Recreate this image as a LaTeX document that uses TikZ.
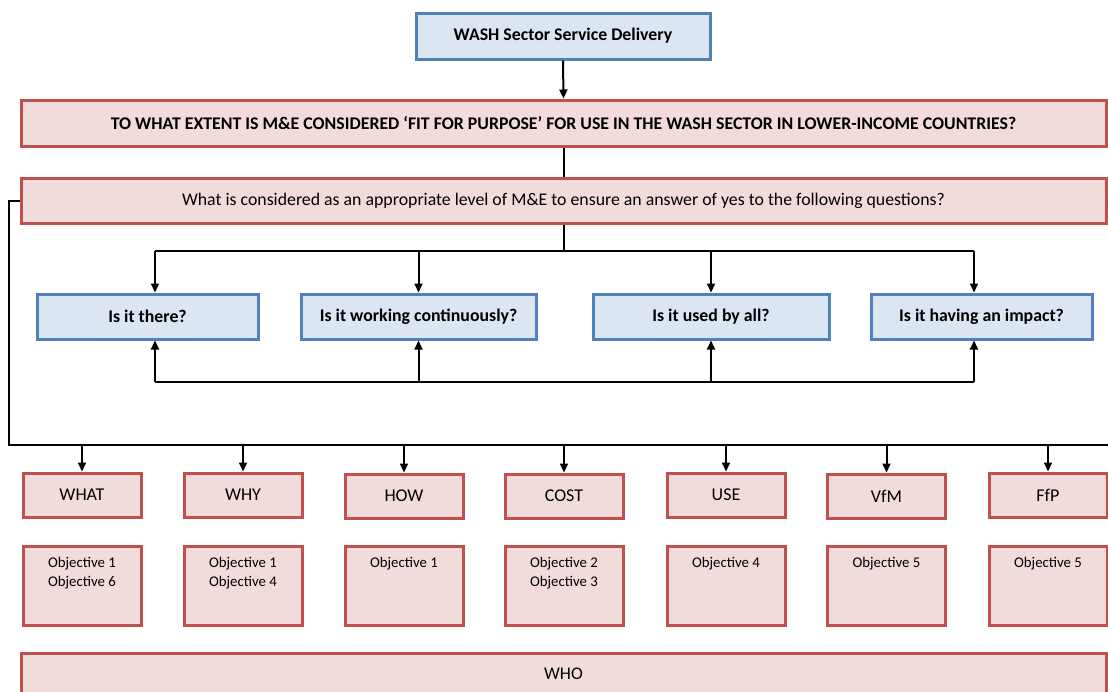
\documentclass[tikz,border=0pt]{standalone}
\usepackage{fontspec}
\setmainfont{Carlito}
\usepackage{tikz}
\usetikzlibrary{arrows.meta}

\definecolor{boxred}{HTML}{C0504D}
\definecolor{fillred}{HTML}{F2DCDB}
\definecolor{boxblue}{HTML}{4F81BD}
\definecolor{fillblue}{HTML}{DCE6F2}

\tikzset{
  redbox/.style={draw=boxred, fill=fillred, line width=3pt, inner sep=0pt, font=\fontsize{17.8}{20}\selectfont},
  bluebox/.style={draw=boxblue, fill=fillblue, line width=3pt, inner sep=0pt, font=\bfseries\fontsize{17.8}{20}\selectfont},
  catbox/.style={redbox, minimum width=118pt, minimum height=44pt, font=\fontsize{18}{20}\selectfont},
  objbox/.style={redbox, minimum width=118pt, minimum height=79pt},
  objtext/.style={inner sep=0pt, anchor=north, align=center, font=\fontsize{14.8}{19}\selectfont},
  link/.style={line width=2pt},
  arr/.style={link, -{Triangle[length=9pt,width=8pt]}},
}

\begin{document}
\begin{tikzpicture}[x=1pt,y=-1pt]
\useasboundingbox (0,0) rectangle (1108,691);

% headline and main question
\node[bluebox, minimum width=294pt, minimum height=46pt] (wash) at (563,36) {WASH Sector Service Delivery};
\node[redbox, font=\bfseries\fontsize{17.8}{20}\selectfont, minimum width=1085pt, minimum height=46pt] (fit) at (563.5,123)
  {TO WHAT EXTENT IS M\&E CONSIDERED `FIT FOR PURPOSE' FOR USE IN THE WASH SECTOR IN LOWER-INCOME COUNTRIES?};
\node[redbox, minimum width=1085pt, minimum height=45pt] (level) at (563.5,200.5)
  {What is considered as an appropriate level of M\&E to ensure an answer of yes to the following questions?};
\draw[arr] (wash.south) -- (fit.north);
\draw[link] (fit.south) -- (level.north);

% the four questions
\node[bluebox, minimum width=221pt, minimum height=45pt] (there) at (147.5,316.5) {Is it there?};
\node[bluebox, minimum width=235pt, minimum height=45pt] (working) at (418.5,316.5) {Is it working continuously?};
\node[bluebox, minimum width=236pt, minimum height=45pt] (used) at (711,316.5) {Is it used by all?};
\node[bluebox, minimum width=221pt, minimum height=45pt] (impact) at (981.5,316.5) {Is it having an impact?};

\coordinate (a1) at (155,251);
\coordinate (a4) at (974,251);
\draw[link] (level.south) -- (level.south |- a1);
\draw[link] (a1) -- (a4);
\draw[arr] (a1) -- (a1 |- there.north);
\draw[arr] (a1 -| working.north) -- (working.north);
\draw[arr] (a1 -| used.north) -- (used.north);
\draw[arr] (a4) -- (a4 |- impact.north);

\coordinate (b1) at (155,382);
\coordinate (b4) at (974,382);
\draw[link] (b1) -- (b4);
\draw[arr] (b1) -- (b1 |- there.south);
\draw[arr] (b1 -| working.south) -- (working.south);
\draw[arr] (b1 -| used.south) -- (used.south);
\draw[arr] (b4) -- (b4 |- impact.south);

% loop round to the categories
\coordinate (c1) at (9,445);
\coordinate (c2) at (1120,445);
\draw[link] (level.west) -| (c1) -- (c2);
\draw[link] (level.east) -- ++(20,0);

\node[catbox] (what) at (82,495) {WHAT};
\node[catbox] (why) at (243,495) {WHY};
\node[catbox] (how) at (404,496) {HOW};
\node[catbox] (cost) at (564,496) {COST};
\node[catbox] (use) at (726,495) {USE};
\node[catbox] (vfm) at (886.5,496) {VfM};
\node[catbox] (ffp) at (1048,495) {FfP};

\draw[arr] (c1 -| what.north) -- (what.north);
\draw[arr] (c1 -| why.north) -- (why.north);
\draw[arr] (c1 -| how.north) -- (how.north);
\draw[arr] (c1 -| cost.north) -- (cost.north);
\draw[arr] (c1 -| use.north) -- (use.north);
\draw[arr] (c1 -| vfm.north) -- (vfm.north);
\draw[arr] (c1 -| ffp.north) -- (ffp.north);

% objectives under each category
\node[objbox] (o1) at (82,585.5) {};
\node[objbox] (o2) at (243,585.5) {};
\node[objbox] (o3) at (404,585.5) {};
\node[objbox] (o4) at (564,585.5) {};
\node[objbox] (o5) at (726,585.5) {};
\node[objbox] (o6) at (886.5,585.5) {};
\node[objbox] (o7) at (1048,585.5) {};
\node[objtext] (t1) at (82,557) {Objective 1\\Objective 6};
\node[objtext] (t2) at (243,557) {Objective 1\\Objective 4};
\node[objtext] (t3) at (404,557) {Objective 1};
\node[objtext] (t4) at (564,557) {Objective 2\\Objective 3};
\node[objtext] (t5) at (726,557) {Objective 4};
\node[objtext] (t6) at (886.5,557) {Objective 5};
\node[objtext] (t7) at (1048,557) {Objective 5};

\node[redbox, minimum width=1085pt, minimum height=42pt] (who) at (563.5,674) {WHO};
\end{tikzpicture}
\end{document}
